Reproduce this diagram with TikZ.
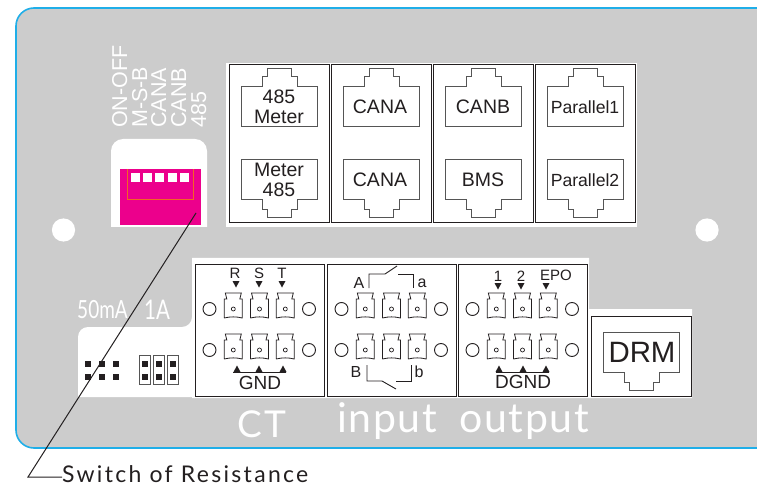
\documentclass[tikz,border=0pt]{standalone}
\usepackage{fontspec}
\setmainfont{Liberation Sans}
\newfontfamily\panelfont[LetterSpace=4]{Lato}
\newfontfamily\narrowfont[FakeStretch=.76]{Lato}
\newfontfamily\notefont[LetterSpace=10]{Lato}
\definecolor{panelgrey}{HTML}{CCCCCC}
\definecolor{panelblue}{HTML}{1FAEE8}
\definecolor{dippink}{HTML}{EC008C}
\definecolor{diporange}{HTML}{F26522}
\definecolor{inkdark}{HTML}{231F20}
\definecolor{inkgrey}{HTML}{555555}
\newcommand{\fsize}[1]{\fontsize{#1}{#1}\selectfont}
\tikzset{
  cellbox/.style={draw=inkdark, fill=white, line width=0.9pt},
  jacklbl/.style={align=center, inner sep=0pt, text=inkdark, font=\fsize{19.5}},
  parlbl/.style={inner sep=0pt, text=inkdark, font=\fsize{17.6}},
  pinlbl/.style={inner sep=0pt, text=inkdark, font=\fsize{15}},
  rellbl/.style={inner sep=0pt, text=inkdark, font=\fsize{16}},
  gndlbl/.style={inner sep=0pt, text=inkdark, font=\fsize{19}},
  paneltxt/.style={inner sep=0pt, text=white, font=\panelfont\fsize{41}},
  diplbl/.style={inner sep=0pt, text=white, rotate=90, anchor=base west, font=\fsize{21.5}},
  amplbl/.style={inner sep=0pt, text=white, font=\narrowfont\fsize{25}},
  wire/.style={draw=inkdark, line width=0.9pt},
  leader/.style={draw=inkdark, line width=1pt},
  jack/.pic={
    \draw[draw=inkgrey, line width=1pt] (0,40) -- (0,0) -- (21,0) -- (21,-10) -- (26,-10) -- (26,-18)
      -- (50,-18) -- (50,-10) -- (56,-10) -- (56,0) -- (76,0) -- (76,40) -- cycle;
  },
  terminal/.pic={
    \draw[draw=inkdark, line width=0.8pt] (-9,25) -- (-9,6) -- (-6.5,6) -- (-8,0) -- (8,0) -- (6.5,6)
      -- (9,6) -- (9,25) .. controls (3,23.5) and (-3,23.5) .. (-9,25);
    \draw[draw=inkdark, line width=0.7pt] (0,16) circle (2);
  },
  tridown/.pic={\fill[inkdark] (-3.5,0) -- (3.5,0) -- (0,6.5) -- cycle;},
  triup/.pic={\fill[inkdark] (-3.5,0) -- (3.5,0) -- (0,-6.5) -- cycle;}
}
\begin{document}
\begin{tikzpicture}[x=1pt,y=-1pt]
  \useasboundingbox (0,0) rectangle (757,486);
  % panel
  \draw[fill=panelgrey, draw=panelblue, line width=1.6pt] (757,8) -- (34,8) arc[start angle=270, end angle=180, radius=18]
    -- (16,430) arc[start angle=180, end angle=90, radius=18] -- (757,448);
  \fill[white] (63.5,230) circle (11.6);
  \fill[white] (707,230) circle (11.6);
  % dip switch
  \fill[white] (111,227) -- (111,151) arc[start angle=180, end angle=270, radius=12]
    -- (195,139) arc[start angle=270, end angle=360, radius=12] -- (207,227) -- cycle;
  \fill[dippink] (120,169) rectangle (201,225);
  \draw[diporange, line width=0.7pt] (127,169) -- (127,199) -- (193,199) -- (193,169);
  \foreach \xx in {131,143,155,168,180}
    \fill[white] (\xx,173) rectangle ++(9,9);
  \node[diplbl] (dipa) at (127,128) {ON-OFF};
  \node[diplbl] (dipb) at (147,128) {M-S-B};
  \node[diplbl] (dipc) at (166,128) {CANA};
  \node[diplbl] (dipd) at (186,128) {CANB};
  \node[diplbl] (dipe) at (206,128) {485};
  % upper jacks
  \fill[white] (226,63) rectangle (637,227);
  \foreach \cx in {229,331,433,535}{
    \draw[cellbox] (\cx,64) rectangle ++(100,158);
    \pic at (\cx+12,87) {jack};
    \pic[yscale=-1] at (\cx+12,200) {jack};
  }
  \node[jacklbl] (metera) at (279,107) {485\\Meter};
  \node[jacklbl] (meterb) at (279,180) {Meter\\485};
  \node[jacklbl] (cana) at (380,107) {CANA};
  \node[jacklbl] (canb) at (380,180) {CANA};
  \node[jacklbl] (canc) at (483,107) {CANB};
  \node[jacklbl] (bms) at (483,180) {BMS};
  \node[parlbl] (para) at (585,107) {Parallel1};
  \node[parlbl] (parb) at (585,180) {Parallel2};
  % lower white blocks
  \fill[white] (78,397) -- (78,337) arc[start angle=180, end angle=270, radius=10] -- (182,327)
    arc[start angle=90, end angle=0, radius=10] -- (192,258) -- (589,258) -- (589,309) -- (692,309) -- (692,398) -- (192,398) -- (192,397) -- cycle;
  \foreach \jx in {88,102,116}{
    \fill[inkdark] (\jx-3,361) rectangle ++(6,6);
    \fill[inkdark] (\jx-3,374) rectangle ++(6,6);
  }
  \foreach \jx in {145,159,173}{
    \draw[draw=inkgrey, line width=0.9pt] (\jx-5.5,355) rectangle ++(11,29);
    \fill[inkdark] (\jx-3,361) rectangle ++(6,6);
    \fill[inkdark] (\jx-3,374) rectangle ++(6,6);
  }
  \node[amplbl] (amps) at (102.5,310) {50mA};
  \node[amplbl, font=\narrowfont\fsize{27}] (ampb) at (157,310) {1A};
  % terminal blocks
  \foreach \cx in {195,327,458}{
    \draw[cellbox] (\cx,264) rectangle ++(129,132);
    \foreach \tx in {38.3,64.5,90.3}{
      \pic at (\cx+\tx,293) {terminal};
      \pic at (\cx+\tx,334) {terminal};
    }
    \foreach \hx in {14.5,114}{
      \draw[wire] (\cx+\hx,309) circle (6.5);
      \draw[wire] (\cx+\hx,350) circle (6.5);
    }
  }
  \node[pinlbl] (pinr) at (235,273) {R};
  \node[pinlbl] (pins) at (259,273) {S};
  \node[pinlbl] (pint) at (282,273) {T};
  \foreach \tx in {236,259,282}
    \pic at (\tx,281) {tridown};
  \coordinate (gnda) at (233,372);
  \coordinate (gndb) at (286,372);
  \draw[wire] (gnda) -- (gndb);
  \foreach \tx in {237,259,283}
    \pic at (\tx,372) {triup};
  \node[gndlbl] (gnd) at (260,383) {GND};
  % relay contacts
  \node[rellbl] (rela) at (359,283) {A};
  \node[rellbl] (relaa) at (422,283) {a};
  \node[rellbl] (relb) at (356,372) {B};
  \node[rellbl] (relbb) at (419,372) {b};
  \draw[wire] (369,288) -- (369,274) -- (385,274) -- (397,266);
  \draw[wire] (398,274) -- (413,274) -- (413,288);
  \draw[wire] (367,365) -- (367,381) -- (382,381) -- (396,389);
  \draw[wire] (396,381) -- (411,381) -- (411,365);
  % output block
  \node[pinlbl] (pinone) at (498,276) {1};
  \node[pinlbl] (pintwo) at (521,276) {2};
  \node[pinlbl] (pinepo) at (556,275) {EPO};
  \foreach \tx in {498,521,546}
    \pic at (\tx,283) {tridown};
  \coordinate (dgnda) at (496,372);
  \coordinate (dgndb) at (549,372);
  \draw[wire] (dgnda) -- (dgndb);
  \foreach \tx in {499,523,546}
    \pic at (\tx,372) {triup};
  \node[gndlbl] (dgnd) at (523,382) {DGND};
  % drm
  \draw[cellbox] (591,316) rectangle (691,396);
  \pic[yscale=-1] at (603,372) {jack};
  \node[jacklbl, font=\fsize{29.4}] (drm) at (642,352) {DRM};
  % panel text
  \node[paneltxt, font=\panelfont\fsize{37}] (ct) at (262,424) {CT};
  \node[paneltxt, anchor=base] (input) at (387,432) {input};
  \node[paneltxt, anchor=base] (output) at (524,432) {output};
  % leader
  \coordinate (tip) at (196,213);
  \coordinate (bend) at (28,477);
  \node[inner sep=0pt, anchor=base west, text=inkdark, font=\notefont\fsize{23}] (note) at (62,482.5) {Switch of Resistance};
  \draw[leader] (tip) -- (bend) -- (note.west |- bend);
\end{tikzpicture}
\end{document}
